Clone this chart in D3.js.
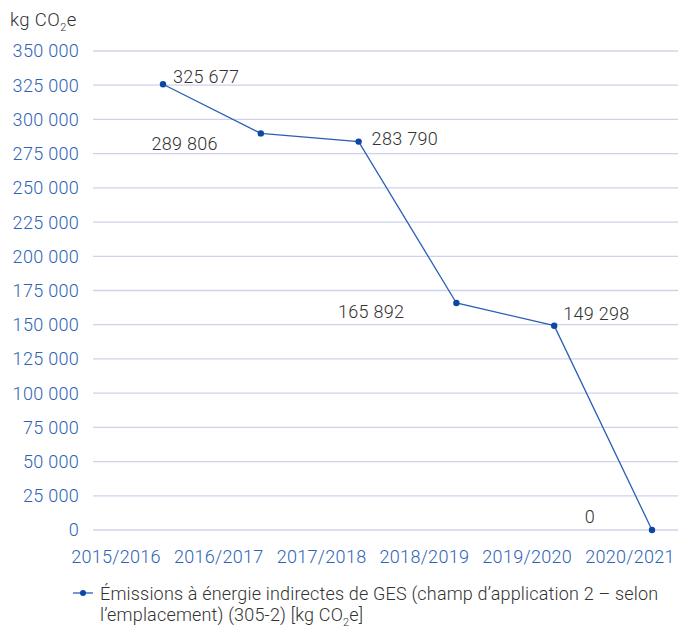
<!DOCTYPE html>
<html><head><meta charset="utf-8">
<script src="https://cdn.jsdelivr.net/npm/d3@7"></script>
<style>
html,body{margin:0;padding:0;background:#fff;}
svg text{font-family:"Roboto","Liberation Sans",Arial,sans-serif;font-weight:300;}
</style></head>
<body><svg id="c" width="678" height="633"></svg>
<script>
const categories = ["2015/2016","2016/2017","2017/2018","2018/2019","2019/2020","2020/2021"];
const values = [325677, 289806, 283790, 165892, 149298, 0];
const valueLabels = ["325 677","289 806","283 790","165 892","149 298","0"];
const yTicks = [0,25000,50000,75000,100000,125000,150000,175000,200000,225000,250000,275000,300000,325000,350000];
const labelPlacement = [
  {anchor:"start", dx:10, dy:-8},
  {anchor:"end", dx:-43, dy:10},
  {anchor:"start", dx:13, dy:-3},
  {anchor:"end", dx:-52, dy:9},
  {anchor:"start", dx:9, dy:-12},
  {anchor:"end", dx:-57, dy:-13}
];

const svg = d3.select("#c");
const y = d3.scaleLinear().domain([0,350000]).range([530,51]);
const xPt = d3.scalePoint().domain(categories).range([163,652]);
const xLab = d3.scalePoint().domain(categories).range([116,630]);
const fmt = v => d3.format(",")(v).replace(/,/g," ");

// gridlines
svg.append("g").selectAll("line").data(yTicks).join("line")
  .attr("x1",93).attr("x2",678)
  .attr("y1",d=>y(d)).attr("y2",d=>y(d))
  .attr("stroke","#cfd2ec").attr("stroke-width",1.3);

// y tick labels
svg.append("g").selectAll("text").data(yTicks).join("text")
  .attr("x",79).attr("y",d=>y(d)).attr("dy","0.36em")
  .attr("text-anchor","end").attr("fill","#2e63b6")
  .attr("font-size",18).attr("letter-spacing","0.3px")
  .text(d=>fmt(d));

// x labels
svg.append("g").selectAll("text").data(categories).join("text")
  .attr("x",d=>xLab(d)).attr("y",563)
  .attr("text-anchor","middle").attr("fill","#2e63b6")
  .attr("font-size",18).attr("letter-spacing","0.3px")
  .text(d=>d);

// title
const t = svg.append("text").attr("x",10).attr("y",26).attr("fill","#333").attr("font-size",18.5).attr("letter-spacing","0.4px");
t.append("tspan").text("kg CO");
t.append("tspan").attr("font-size",11).attr("dy",5).text("2");
t.append("tspan").attr("dy",-5).text("e");

// line
const data = categories.map((c,i)=>({c,v:values[i],l:valueLabels[i],p:labelPlacement[i]}));
svg.append("path").datum(data)
  .attr("fill","none").attr("stroke","#2a5fb8").attr("stroke-width",1.3)
  .attr("d",d3.line().x(d=>xPt(d.c)).y(d=>y(d.v)));
svg.append("g").selectAll("circle").data(data).join("circle")
  .attr("cx",d=>xPt(d.c)).attr("cy",d=>y(d.v)).attr("r",3.2).attr("fill","#0c47a3");

// value labels
svg.append("g").selectAll("text").data(data).join("text")
  .attr("x",d=>xPt(d.c)+d.p.dx).attr("y",d=>y(d.v)+d.p.dy).attr("dy","0.36em")
  .attr("text-anchor",d=>d.p.anchor).attr("fill","#333")
  .attr("font-size",18).attr("letter-spacing","0.3px")
  .text(d=>d.l);

// legend
const lg = svg.append("g");
lg.append("line").attr("x1",73).attr("x2",93).attr("y1",593).attr("y2",593)
  .attr("stroke","#2a5fb8").attr("stroke-width",1.3);
lg.append("circle").attr("cx",83).attr("cy",593).attr("r",3).attr("fill","#0c47a3");
lg.append("text").attr("x",100).attr("y",600).attr("fill","#333").attr("font-size",18).attr("letter-spacing","0.18px")
  .text("Émissions à énergie indirectes de GES (champ d’application 2 – selon");
const l2 = lg.append("text").attr("x",100).attr("y",621).attr("fill","#333").attr("font-size",18).attr("letter-spacing","0.18px");
l2.append("tspan").text("l’emplacement) (305-2) [kg CO");
l2.append("tspan").attr("font-size",11).attr("dy",5).text("2");
l2.append("tspan").attr("dy",-5).text("e]");
</script></body></html>
